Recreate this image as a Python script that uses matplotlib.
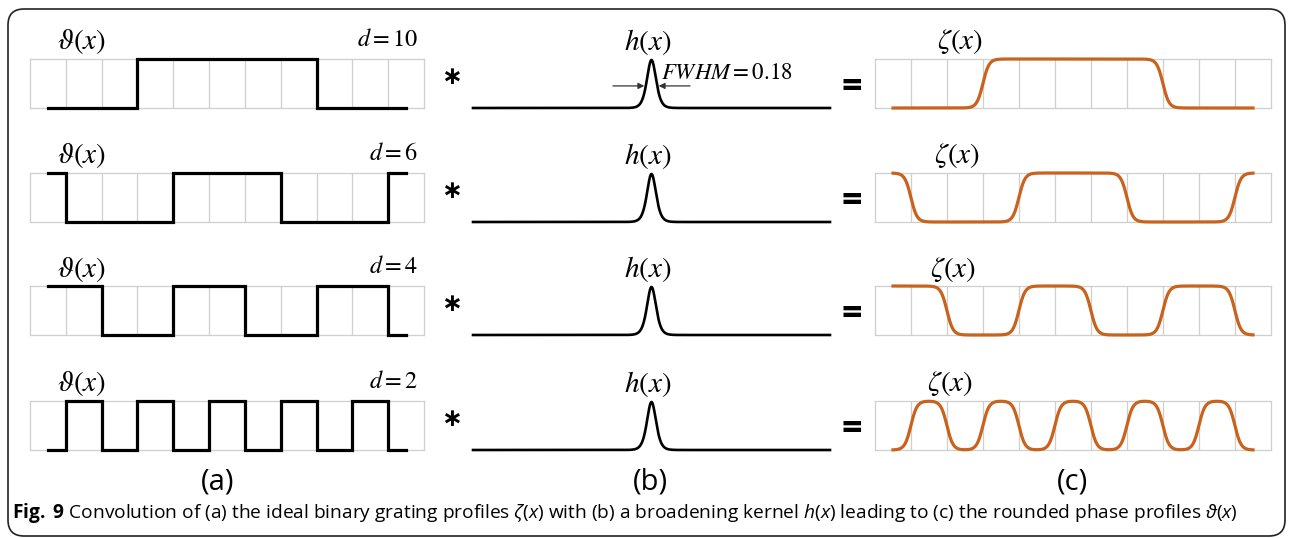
import numpy as np
import matplotlib
matplotlib.use("Agg")
import matplotlib.pyplot as plt
from matplotlib.patches import FancyBboxPatch
from matplotlib.transforms import IdentityTransform

plt.rcParams["font.family"] = ["Open Sans", "DejaVu Sans"]
plt.rcParams["mathtext.fontset"] = "custom"
plt.rcParams["mathtext.rm"] = "Open Sans"
plt.rcParams["mathtext.it"] = "Open Sans:italic"
plt.rcParams["mathtext.bf"] = "Open Sans:bold"

# grating periods and binary profiles (edges in grid units, start level)
periods = [10, 6, 4, 2]
start_levels = [0, 1, 1, 0]
edges = [
    [3, 8],
    [1, 4, 7, 10],
    [2, 4, 6, 8, 10],
    [1, 2, 3, 4, 5, 6, 7, 8, 9, 10],
]
x_start, x_end = 0.5, 10.5
n_cells = 11
kernel_width = 0.17        # sech^2 kernel scale (grid units)
fwhm_label = "0.18"
panel_labels = ["(a)", "(b)", "(c)"]
caption = (r"$\mathbf{Fig.}$ $\mathbf{9}$ Convolution of (a) the ideal binary grating profiles "
           r"$\zeta$($x$) with (b) a broadening kernel $h$($x$) leading to (c) the "
           r"rounded phase profiles $\vartheta$($x$)")

W, H = 1290, 538
ORANGE = "#C9621C"
GRID = "#cfcfcf"


def px_box(x0, y0, x1, y1):
    return [x0 / W, 1 - y1 / H, (x1 - x0) / W, (y1 - y0) / H]


def step_profile(xs, edge_list, level0):
    y = np.full_like(xs, float(level0))
    lev = level0
    for e in edge_list:
        lev = 1 - lev
        y[xs >= e] = lev
    return y


def grid_box(ax):
    ax.set_xlim(0, n_cells)
    ax.set_ylim(0, 1)
    for xv in range(1, n_cells):
        ax.axvline(xv, color=GRID, lw=0.9, zorder=0)
    for sp in ax.spines.values():
        sp.set_color(GRID)
        sp.set_linewidth(0.9)
        sp.set_zorder(0)
    ax.set_xticks([])
    ax.set_yticks([])


fig = plt.figure(figsize=(W / 100, H / 100), dpi=100)

# outer rounded frame
frame = FancyBboxPatch((8, 2), 1277, 527, boxstyle="round,pad=0,rounding_size=16",
                       transform=IdentityTransform(), fill=False, ec="#222222", lw=1.2)
fig.patches.append(frame)

row_tops = [59, 173, 286, 401]
row_h = 49
zeta_x = [960, 957, 953, 950]

dx = 0.005
xs = np.arange(x_start, x_end + dx / 2, dx)
kx = np.arange(-5, 5 + dx / 2, dx)
kernel = 1.0 / np.cosh(kx / kernel_width) ** 2
pad = len(kx)
half_width = kernel_width * np.arccosh(np.sqrt(2))

for i, (d, e, s0) in enumerate(zip(periods, edges, start_levels)):
    top = row_tops[i]
    bot = top + row_h

    # (a) binary profile
    ax = fig.add_axes(px_box(30, top, 424, bot))
    grid_box(ax)
    step_x = [x_start] + list(e) + [x_end]
    lev = [s0]
    for _ in e:
        lev.append(1 - lev[-1])
    lev.append(lev[-1])
    ax.step(step_x, lev, where="post", color="black", lw=2.3, clip_on=False,
            solid_joinstyle="miter", zorder=3)

    # (c) rounded profile: binary profile convolved with the kernel
    axc = fig.add_axes(px_box(875, top, 1271, bot))
    grid_box(axc)
    prof = step_profile(xs, e, s0)
    padded = np.pad(prof, pad, mode="edge")
    smooth = np.convolve(padded, kernel / kernel.sum(), mode="same")[pad:-pad]
    axc.plot(xs, smooth, color=ORANGE, lw=2.3, clip_on=False, zorder=3)

    # (b) kernel
    axk = fig.add_axes(px_box(473, top + 1, 830, bot))
    axk.set_xlim(-5, 5)
    axk.set_ylim(0, 1)
    axk.axis("off")
    axk.plot(kx, kernel, color="black", lw=1.9, clip_on=False)
    if i == 0:
        tip = half_width + 0.05
        for sgn in (-1, 1):
            axk.annotate("", xy=(sgn * tip, 0.46), xytext=(sgn * 1.08, 0.46),
                         arrowprops=dict(arrowstyle="-|>", color="#333333", lw=0.9,
                                         mutation_scale=9, shrinkA=0, shrinkB=0))
        fig.text(661 / W, 1 - 73 / H, r"$FWHM = %s$" % fwhm_label, fontsize=16.5,
                 math_fontfamily="stix", ha="left", va="center")

    cy = top - 17
    fig.text(82 / W, 1 - cy / H, r"$\vartheta(x)$", fontsize=21, math_fontfamily="stix",
             ha="center", va="center")
    fig.text(418 / W, 1 - (cy - 2) / H, r"$d = %d$" % d, fontsize=17.5,
             math_fontfamily="stix", ha="right", va="center")
    fig.text(648 / W, 1 - cy / H, r"$h(x)$", fontsize=21, math_fontfamily="stix",
             ha="center", va="center")
    fig.text(zeta_x[i] / W, 1 - cy / H, r"$\zeta(x)$", fontsize=21,
             math_fontfamily="stix", ha="center", va="center")

    # operators
    fig.text(452 / W, 1 - (top + 18) / H, "\u2217", fontsize=18, fontweight="bold",
             family="DejaVu Sans", ha="center", va="center")
    fig.text(852 / W, 1 - (top + 29) / H, "=", fontsize=26, fontweight="bold",
             ha="center", va="center")

for lab, xc in zip(panel_labels, [218, 650, 1072]):
    fig.text(xc / W, 1 - 482 / H, lab, fontsize=21, ha="center", va="center")

fig.text(12 / W, 1 - 518 / H, caption, fontsize=13.8, ha="left", va="baseline",
         math_fontfamily="custom")

fig.savefig("out.png", dpi=100)
